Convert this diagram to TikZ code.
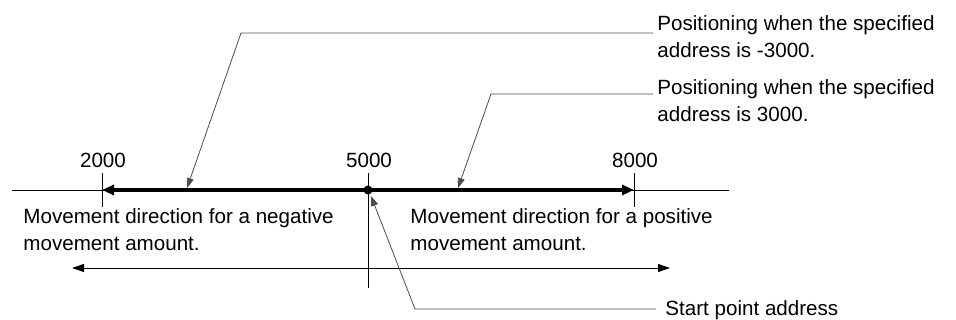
\documentclass[tikz,border=0pt]{standalone}
\usepackage{fontspec}
\setmainfont{Liberation Sans}
\usetikzlibrary{arrows.meta}
\tikzset{
	label text/.style={inner sep=0pt, anchor=base west, align=left, font=\fontsize{10.3pt}{13.5pt}\selectfont},
	tick label/.style={inner sep=0pt, anchor=base, font=\fontsize{10.3pt}{13.5pt}\selectfont},
	axis line/.style={line width=0.5pt},
	leader/.style={draw=black!70, line width=0.4pt, -{Triangle[length=5pt,width=3.5pt]}},
}
\begin{document}
\begin{tikzpicture}[x=0.5pt, y=-0.5pt]
		\useasboundingbox (0,0) rectangle (956,320);
		% axis and positions
		\coordinate (left end) at (12,190);
		\coordinate (right end) at (729,190);
		\coordinate (p2000) at (102,190);
		\coordinate (p5000) at (368,190);
		\coordinate (p8000) at (634,190);
		\draw [axis line] (left end) -- (right end);
		\draw [line width=1.6pt, {Triangle[length=6pt,width=5pt]}-{Triangle[length=6pt,width=5pt]}] (p2000) -- (p8000);
		\draw [axis line] (p2000) ++(0,-17) -- ++(0,34);
		\draw [axis line] (p8000) ++(0,-17) -- ++(0,34);
		\draw [axis line] (p5000) ++(0,-17) -- ++(0,115);
		\fill (p5000) circle (4.5);
		\node (l2000) [tick label] at (103,168) {2000};
		\node (l5000) [tick label] at (369,168) {5000};
		\node (l8000) [tick label] at (635,168) {8000};
		% movement span
		\coordinate (span left) at (72,268);
		\coordinate (span right) at (670,268);
		\draw [axis line, {Triangle[length=6pt,width=4pt]}-{Triangle[length=6pt,width=4pt]}] (span left) -- (span right);
		% base anchor sits on the last line
		\node (neg text) [label text] at (23,250.5) {Movement direction for a negative\\movement amount.};
		\node (pos text) [label text] at (410,250.5) {Movement direction for a positive\\movement amount.};
		% leaders
		\node (neg target) [label text] at (657,58) {Positioning when the specified\\address is -3000.};
		\node (pos target) [label text] at (657,121.5) {Positioning when the specified\\address is 3000.};
		\node (start) [label text] at (665,315) {Start point address};
		\coordinate (neg end) at (653,33);
		\coordinate (neg bend) at (241,33);
		\coordinate (neg tip) at (187,188);
		\coordinate (pos end) at (653,94);
		\coordinate (pos bend) at (491,94);
		\coordinate (pos tip) at (458,188);
		\coordinate (start end) at (656,309);
		\coordinate (start bend) at (415,309);
		\coordinate (start tip) at (371,196);
		\draw [leader] (neg end) -- (neg bend) -- (neg tip);
		\draw [leader] (pos end) -- (pos bend) -- (pos tip);
		\draw [leader] (start end) -- (start bend) -- (start tip);
	\end{tikzpicture}
\end{document}
